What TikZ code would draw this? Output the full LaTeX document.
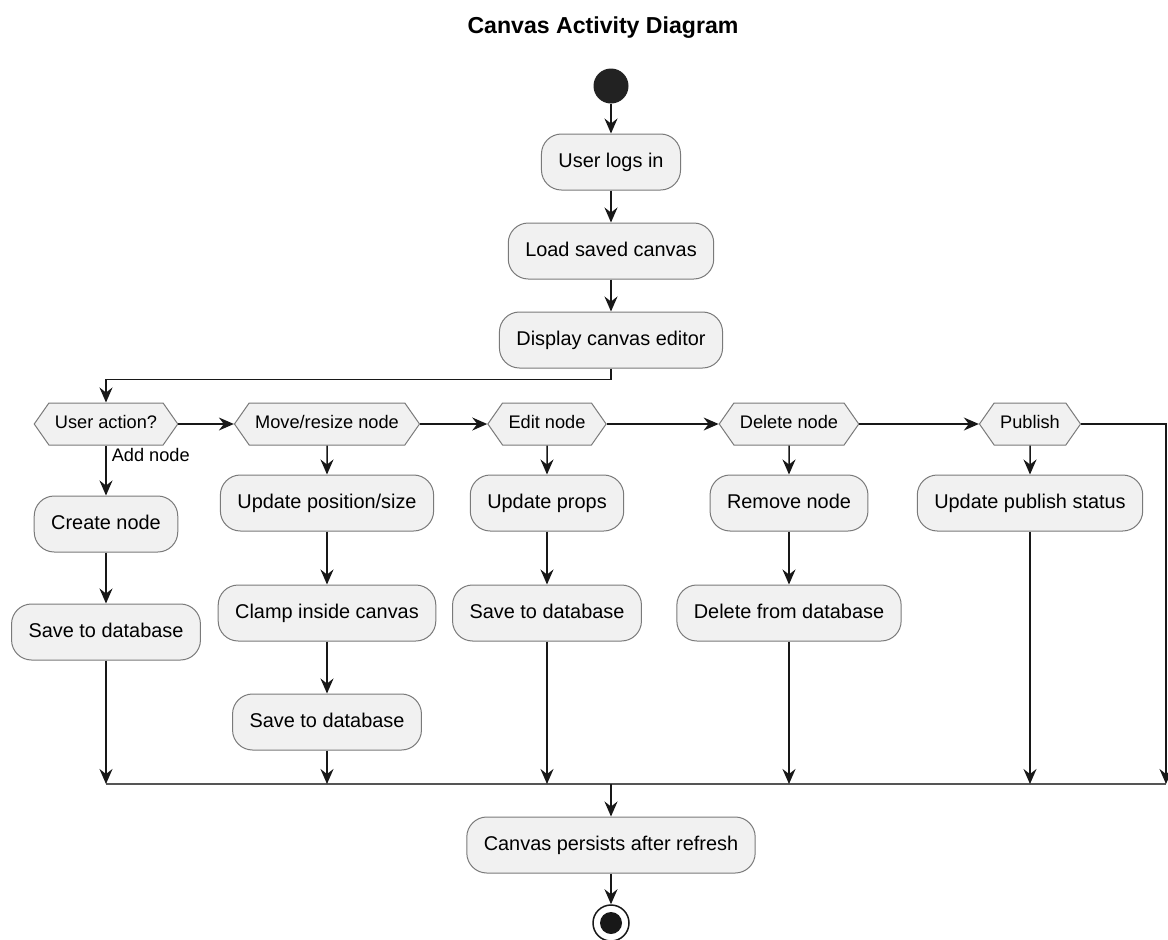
\documentclass[tikz,border=0pt]{standalone}
\usepackage{fontspec}
\setmainfont{Liberation Sans}
\usetikzlibrary{arrows.meta,shapes.symbols}
\definecolor{boxfill}{HTML}{F1F1F1}
\definecolor{boxline}{HTML}{7A7A7A}
\definecolor{lin}{HTML}{181818}
\definecolor{startc}{HTML}{222222}
\definecolor{barc}{HTML}{555555}
\begin{document}
\begin{tikzpicture}[x=1pt,y=-1pt,
  act/.style={draw=boxline, line width=1pt, fill=boxfill, rounded corners=20pt,
    minimum height=56pt, inner xsep=17pt, font=\fontsize{19.9}{24}\selectfont,
    text height=14.5pt, text depth=4pt},
  hex/.style={draw=boxline, line width=1pt, fill=boxfill, shape=signal,
    signal to=east and west, signal pointer angle=110,
    font=\fontsize{18.2}{22}\selectfont, inner xsep=6pt,
    text height=13pt, text depth=4pt, inner ysep=12.5pt},
  flow/.style={draw=lin, line width=1.5pt, -{Stealth[length=15pt,width=13pt,inset=5pt]}},
  barline/.style={draw=barc, line width=2.5pt},
  lbl/.style={font=\fontsize{18.2}{22}\selectfont, inner sep=2pt},
]
\fill[white] (0,0) rectangle (1168,940);
\useasboundingbox (0,0) rectangle (1168,940);

\node[font=\bfseries\fontsize{23.1}{28}\selectfont] (title) at (603,28) {Canvas Activity Diagram};

\node[circle, fill=startc, minimum size=35pt, inner sep=0pt] (start) at (611,86) {};
\node[act] (login) at (611,162) {User logs in};
\node[act] (load) at (611,251) {Load saved canvas};
\node[act] (display) at (611,340) {Display canvas editor};

\node[hex] (dec) at (106,424) {User action?};
\node[hex] (mv) at (327,424) {Move/resize node};
\node[hex] (ed) at (547,424) {Edit node};
\node[hex] (del) at (789,424) {Delete node};
\node[hex] (pub) at (1030,424) {Publish};

\node[act] (create) at (106,524) {Create node};
\node[act] (save1) at (106,632) {Save to database};
\node[act] (upd) at (327,503) {Update position/size};
\node[act] (clamp) at (327,613) {Clamp inside canvas};
\node[act] (save2) at (327,722) {Save to database};
\node[act] (props) at (547,503) {Update props};
\node[act] (save3) at (547,613) {Save to database};
\node[act] (remove) at (789,503) {Remove node};
\node[act] (deldb) at (789,613) {Delete from database};
\node[act] (pubst) at (1030,503) {Update publish status};

\coordinate (barL) at (106,784);
\coordinate (barR) at (1166,784);
\coordinate (barM) at (611,784);

\node[act] (persist) at (611,845) {Canvas persists after refresh};
\node[circle, draw=lin, line width=1.5pt, fill=white, minimum size=36pt, inner sep=0pt] (end) at (611,923) {};
\fill[lin] (end.center) circle (11pt);

\draw[flow] (start) -- (login);
\draw[flow] (login) -- (load);
\draw[flow] (load) -- (display);
\draw[flow] (display.south) -- ++(0,11) -| (dec.north);

\draw[flow] (dec.east) -- (mv.west);
\draw[flow] (mv.east) -- (ed.west);
\draw[flow] (ed.east) -- (del.west);
\draw[flow] (del.east) -- (pub.west);

\draw[flow] (dec.south) -- node[lbl, pos=0, anchor=north west, xshift=3pt] (addlbl) {Add node} (create.north);
\draw[flow] (create) -- (save1);
\draw[flow] (mv) -- (upd);
\draw[flow] (upd) -- (clamp);
\draw[flow] (clamp) -- (save2);
\draw[flow] (ed) -- (props);
\draw[flow] (props) -- (save3);
\draw[flow] (del) -- (remove);
\draw[flow] (remove) -- (deldb);
\draw[flow] (pub) -- (pubst);

\draw[barline] (barL) -- (barR);
\draw[flow] (save1.south) -- (save1.south |- barL);
\draw[flow] (save2.south) -- (save2.south |- barL);
\draw[flow] (save3.south) -- (save3.south |- barL);
\draw[flow] (deldb.south) -- (deldb.south |- barL);
\draw[flow] (pubst.south) -- (pubst.south |- barL);
\draw[flow] (pub.east) -| (barR);

\draw[flow] (barM) -- (persist.north);
\draw[flow] (persist) -- (end);
\end{tikzpicture}
\end{document}
